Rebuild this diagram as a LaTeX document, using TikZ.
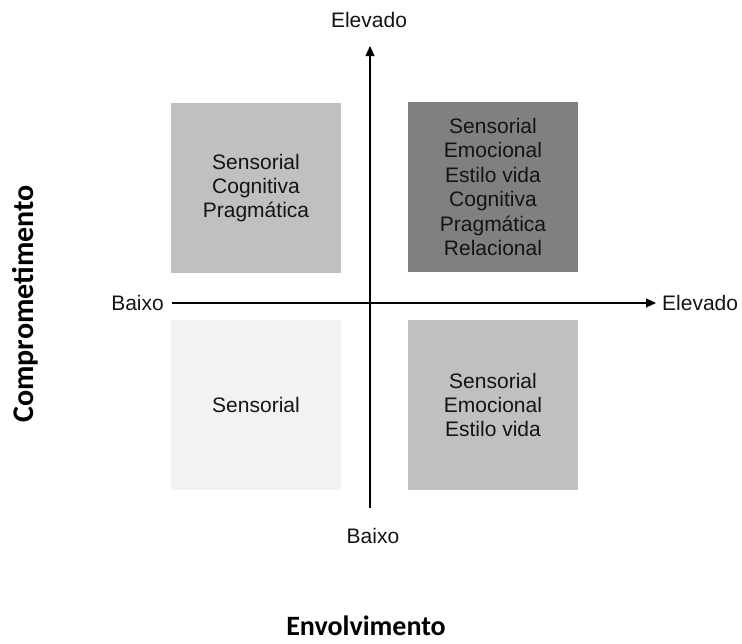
\documentclass[tikz,border=0pt]{standalone}
\usepackage{fontspec}
\setmainfont{Liberation Sans}
\newfontfamily\calfont{Carlito}
\usetikzlibrary{arrows.meta}
\definecolor{boxmid}{HTML}{C0C0C0}
\definecolor{boxdark}{HTML}{808080}
\definecolor{boxlight}{HTML}{F2F2F2}
\definecolor{txt}{HTML}{141414}
\tikzset{
  quad/.style={minimum width=170pt, minimum height=170pt, inner sep=0pt, align=center,
    font=\fontsize{21}{24.4}\selectfont, text=txt},
  axislabel/.style={font=\fontsize{21}{24}\selectfont, text=txt, inner sep=0pt},
  titlelabel/.style={font=\calfont\bfseries, text=black, inner sep=0pt},
  axisline/.style={line width=1.1pt, black},
  axisarrow/.style={axisline, -{Triangle[length=10pt,width=9pt]}}
}
\begin{document}
\begin{tikzpicture}[x=1pt,y=-1pt]
\useasboundingbox (0,0) rectangle (742,643);
% quadrants
\node[quad, fill=boxmid]   (tl) at (256,188) {Sensorial\\Cognitiva\\Pragmática};
\node[quad, fill=boxdark]  (tr) at (493,187) {Sensorial\\Emocional\\Estilo vida\\Cognitiva\\Pragmática\\Relacional};
\node[quad, fill=boxlight] (bl) at (256,405) {Sensorial};
\node[quad, fill=boxmid]   (br) at (493,405) {Sensorial\\Emocional\\Estilo vida};
% axes
\coordinate (vbot) at (370,508);
\coordinate (vtop) at (370,46);
\coordinate (hleft) at (172,303);
\coordinate (hright) at (656,303);
\draw[axisarrow] (hleft) -- (hright);
\draw[axisarrow] (vbot) -- (vtop);
% axis labels
\node[axislabel, anchor=east] (lbaixo) at (164,303) {Baixo};
\node[axislabel, anchor=west] (relevado) at (662,303) {Elevado};
\node[axislabel] (televado) at (369,20) {Elevado};
\node[axislabel] (bbaixo) at (373,536) {Baixo};
% titles
\node[titlelabel, font=\calfont\bfseries\fontsize{28}{32}\selectfont, anchor=base] (env) at (366,635) {Envolvimento};
\node[titlelabel, font=\calfont\bfseries\fontsize{30}{34}\selectfont, rotate=90, anchor=base] (comp) at (33,304) {Comprometimento};
\end{tikzpicture}
\end{document}
